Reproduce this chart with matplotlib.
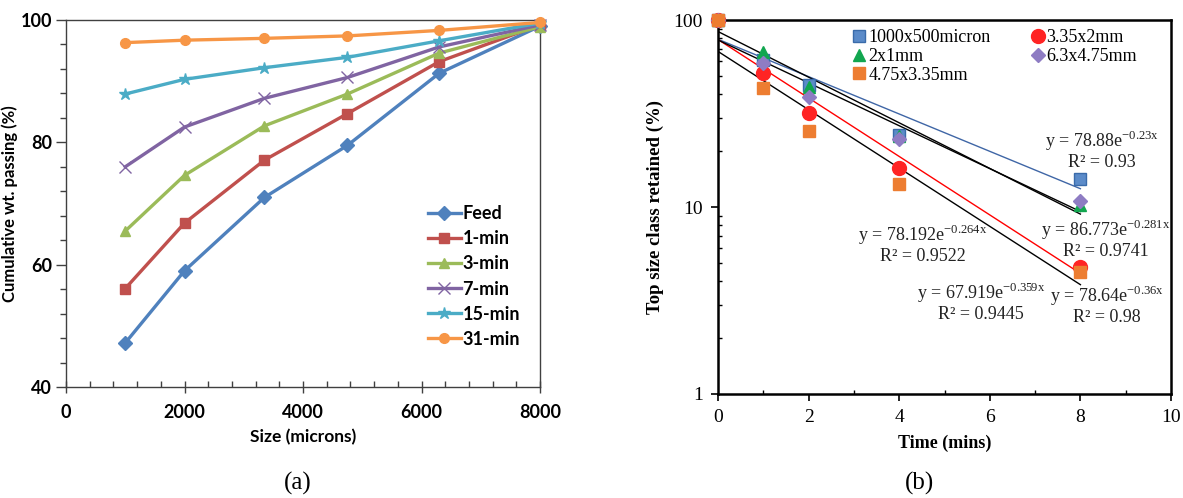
import numpy as np
import matplotlib
matplotlib.use('Agg')
import matplotlib.pyplot as plt
from matplotlib.ticker import MultipleLocator, LogLocator, NullFormatter, FixedLocator

plt.rcParams['mathtext.fontset'] = 'custom'
plt.rcParams['mathtext.rm'] = 'Liberation Serif'

# (a) cumulative passing vs. size
sizes = [1000, 2000, 3350, 4750, 6300, 8000]
passing = {
    'Feed':   [47.2, 59.0, 71.0, 79.5, 91.3, 99.0],
    '1-min':  [56.1, 66.8, 77.1, 84.7, 93.2, 99.2],
    '3-min':  [65.5, 74.6, 82.7, 87.9, 94.6, 98.9],
    '7-min':  [76.0, 82.5, 87.2, 90.6, 95.6, 99.2],
    '15-min': [87.9, 90.3, 92.2, 93.9, 96.6, 99.5],
    '31-min': [96.3, 96.7, 97.0, 97.4, 98.3, 99.6],
}
a_colors = ['#4F81BD', '#C0504D', '#9BBB59', '#8064A2', '#4BACC6', '#F79646']
a_markers = ['D', 's', '^', 'x', '*', 'o']

# (b) top size class retained vs. grinding time
times = [0, 1, 2, 4, 8]
retained = {
    '1000x500micron': [100, 61.0, 44.9, 24.3, 14.2],
    '2x1mm':          [100, 67.5, 43.6, 24.0, 10.2],
    '3.35x2mm':       [100, 51.9, 31.9, 16.2, 4.8],
    '6.3x4.75mm':     [100, 59.0, 38.9, 23.0, 10.8],
    '4.75x3.35mm':    [100, 43.2, 25.5, 13.2, 4.5],
}
b_colors = ['#5B8BC9', '#11A64F', '#FF2424', '#8E7CC3', '#ED7D31']
b_edges = ['#3A6BAA', '#11A64F', '#FF2424', '#8E7CC3', '#ED7D31']
b_markers = ['s', '^', 'o', 'D', 's']
b_msize = [9, 9, 10, 7, 9]
legend_order = ['1000x500micron', '2x1mm', '4.75x3.35mm', '3.35x2mm', '6.3x4.75mm']
# exponential trendlines: y = a*exp(-b*x), with R2
fits = {
    '1000x500micron': (78.88, 0.23, '78.88', '0.23', '0.93'),
    '2x1mm':          (86.773, 0.281, '86.773', '0.281', '0.9741'),
    '3.35x2mm':       (78.64, 0.36, '78.64', '0.36', '0.98'),
    '6.3x4.75mm':     (78.192, 0.264, '78.192', '0.264', '0.9522'),
    '4.75x3.35mm':    (67.919, 0.359, '67.919', '0.359', '0.9445'),
}
fit_colors = ['#3F66A6', 'black', '#FF0000', 'black', 'black']
# label centres in axes fraction
fit_pos = {
    '1000x500micron': (0.848, 0.652),
    '2x1mm':          (0.856, 0.414),
    '3.35x2mm':       (0.858, 0.238),
    '6.3x4.75mm':     (0.4525, 0.401),
    '4.75x3.35mm':    (0.580, 0.246),
}

W, H = 1183, 498
fig = plt.figure(figsize=(W / 100, H / 100), dpi=100)

# ---------- panel (a) ----------
sans = ['Lato', 'DejaVu Sans']
ax1 = fig.add_axes([66 / W, 1 - 387 / H, (540 - 66) / W, (387 - 20) / H])
for (name, vals), c, m in zip(passing.items(), a_colors, a_markers):
    thin = m in ('x', '*')
    ax1.plot(sizes, vals, color=c, lw=2.4, marker=m, ms=9 if thin else 7, mew=1.0,
             label=name, clip_on=False, zorder=3)
ax1.set_xlim(0, 8000)
ax1.set_ylim(40, 100)
ax1.xaxis.set_major_locator(MultipleLocator(2000))
ax1.xaxis.set_minor_locator(MultipleLocator(400))
ax1.yaxis.set_major_locator(MultipleLocator(20))
ax1.yaxis.set_minor_locator(MultipleLocator(4))
for s in ax1.spines.values():
    s.set_color('#404040')
    s.set_linewidth(1.0)
ax1.tick_params(axis='x', which='major', direction='inout', length=8, width=1, color='#404040', pad=8)
ax1.tick_params(axis='x', which='minor', direction='in', length=4, width=1, color='#404040')
ax1.tick_params(axis='y', which='major', direction='out', length=7, width=1, color='#404040', pad=3)
ax1.tick_params(axis='y', which='minor', direction='out', length=4, width=1, color='#404040')
for lab in ax1.get_xticklabels() + ax1.get_yticklabels():
    lab.set_fontfamily(sans)
    lab.set_fontweight('bold')
    lab.set_fontsize(13)
ax1.set_xlabel('Size (microns)', family=sans, fontweight='bold', fontsize=12.5, labelpad=6)
ax1.set_ylabel('Cumulative wt. passing (%)', family=sans, fontweight='bold', fontsize=12, labelpad=2)
leg1 = ax1.legend(loc='upper left', bbox_to_anchor=(0.745, 0.52), frameon=False,
                  prop={'family': sans, 'weight': 'bold', 'size': 13},
                  handlelength=1.8, handletextpad=0.1, labelspacing=0.45, borderpad=0)

# ---------- panel (b) ----------
serif = ['Liberation Serif', 'DejaVu Serif']
ax2 = fig.add_axes([718 / W, 1 - 394 / H, (1171 - 718) / W, (394 - 20) / H])
tx = np.linspace(0, 8, 100)
for name, fc in zip(retained, fit_colors):
    a, b = fits[name][:2]
    ax2.plot(tx, a * np.exp(-b * tx), color=fc, lw=1.0, zorder=2)
handles = {}
for (name, vals), c, ec, m, ms in zip(retained.items(), b_colors, b_edges, b_markers, b_msize):
    handles[name], = ax2.plot(times, vals, ls='none', marker=m, ms=ms, mfc=c, mec=ec, mew=1.0,
                              label=name, clip_on=False, zorder=4)
for name, (fx, fy) in fit_pos.items():
    a, b, a_s, b_s, r2 = fits[name]
    ax2.text(fx, fy, 'y = ' + a_s + r'e$^{\mathregular{-' + b_s + 'x}}$\nR² = ' + r2,
             transform=ax2.transAxes, ha='center', va='center', multialignment='center',
             family=serif, fontsize=13, color='#222222', linespacing=1.1)
ax2.set_yscale('log')
ax2.set_xlim(0, 10)
ax2.set_ylim(1, 100)
ax2.xaxis.set_major_locator(MultipleLocator(2))
ax2.xaxis.set_minor_locator(MultipleLocator(1))
ax2.yaxis.set_major_locator(FixedLocator([1, 10, 100]))
ax2.yaxis.set_minor_locator(LogLocator(base=10, subs=np.arange(2, 10)))
ax2.yaxis.set_minor_formatter(NullFormatter())
ax2.set_yticklabels(['1', '10', '100'])
for s in ax2.spines.values():
    s.set_color('black')
    s.set_linewidth(1.8)
ax2.tick_params(which='major', direction='out', length=5, width=1.2, pad=6)
ax2.tick_params(which='minor', direction='in', length=3, width=1.0)
for lab in ax2.get_xticklabels() + ax2.get_yticklabels():
    lab.set_fontfamily(serif)
    lab.set_fontsize(14)
ax2.set_xlabel('Time (mins)', family=serif, fontweight='bold', fontsize=13, labelpad=6)
ax2.set_ylabel('Top size class retained (%)', family=serif, fontweight='bold', fontsize=13.5, labelpad=7)
leg2 = ax2.legend([handles[n] for n in legend_order], legend_order,
                  loc='upper left', bbox_to_anchor=(0.28, 1.0), ncol=2, frameon=False,
                  prop={'family': serif, 'size': 13}, handlelength=0.6, handletextpad=0.2,
                  labelspacing=0.1, columnspacing=2.3, borderpad=0)

fig.text(298 / W, 1 - 483 / H, '(a)', family=serif, fontsize=18, ha='center', va='center')
fig.text(920 / W, 1 - 483 / H, '(b)', family=serif, fontsize=18, ha='center', va='center')

fig.savefig('out.png', dpi=100)
